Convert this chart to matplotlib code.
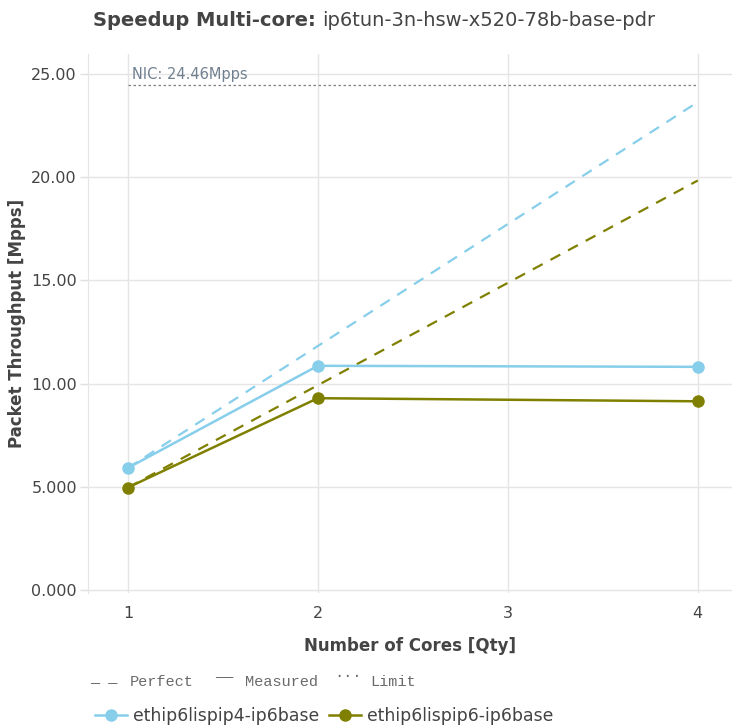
import matplotlib.pyplot as plt
from matplotlib.ticker import FixedLocator

# data
cores = [1, 2, 4]
series_names = ["ethip6lispip4-ip6base", "ethip6lispip6-ip6base"]
measured_ip4 = [5.91, 10.86, 10.81]
measured_ip6 = [4.96, 9.29, 9.14]
perfect_ip4 = [5.91, 11.82, 23.64]
perfect_ip6 = [4.96, 9.92, 19.84]
nic_limit = 24.46
y_ticks = [0, 5, 10, 15, 20, 25]
y_tick_labels = ["0.000", "5.000", "10.00", "15.00", "20.00", "25.00"]
x_ticks = [1, 2, 3, 4]

colors = ["#87ceeb", "#808000"]
text_col = "#444444"

fig = plt.figure(figsize=(7.32, 7.27), dpi=100)
W, H = 732, 727
ax = fig.add_axes([88 / W, 1 - 593 / H, (732 - 88) / W, (593 - 54) / H])

for meas, perf, c, name in zip([measured_ip4, measured_ip6],
                               [perfect_ip4, perfect_ip6], colors, series_names):
    ax.plot(cores, perf, color=c, linestyle=(0, (5, 4)), linewidth=1.6, zorder=2)
    ax.plot(cores, meas, color=c, linewidth=1.8, marker="o", markersize=8,
            label=name, zorder=3)

ax.plot([1, 4], [nic_limit, nic_limit], color="#7f7f7f", linestyle=(0, (2, 2)),
        linewidth=0.9, zorder=2)
ax.text(1.02, nic_limit + 0.15, f"NIC: {nic_limit:.2f}Mpps", color="#708090",
        fontsize=10.5, va="bottom", ha="left")

ax.set_xlim(0.79, 4.18)
ax.set_ylim(-0.15, 25.97)
ax.xaxis.set_major_locator(FixedLocator(x_ticks))
ax.set_yticks(y_ticks)
ax.set_yticklabels(y_tick_labels)
ax.grid(True, color="#e5e5e5", linewidth=1)
ax.set_axisbelow(True)
for s in ax.spines.values():
    s.set_visible(False)
ax.spines["left"].set_visible(True)
ax.spines["left"].set_color("#e5e5e5")
ax.tick_params(axis="both", colors=text_col, labelsize=11.5, length=6, width=1)
ax.tick_params(axis="x", length=0, pad=9)
ax.tick_params(axis="y", color="#e0e0e0", pad=2)

ax.set_xlabel("Number of Cores [Qty]", fontsize=12, fontweight="bold",
              color=text_col, labelpad=12)
ax.set_ylabel("Packet Throughput [Mpps]", fontsize=12, fontweight="bold",
              color=text_col, labelpad=4)

# title: bold prefix + normal suffix, placed side by side
ty = 1 - 20 / H
fig.text(316 / W, ty, "Speedup Multi-core:", fontsize=14, fontweight="bold",
         color=text_col, ha="right", va="center")
fig.text(322 / W, ty, "ip6tun-3n-hsw-x520-78b-base-pdr", fontsize=14,
         color=text_col, ha="left", va="center")

# line-style legend in monospace
mono = ["Liberation Mono", "DejaVu Sans Mono"]
ly = 1 - 682 / H
for x, s, dy in [(90, "_ _", -5), (130, "Perfect", 0), (215, "\u2014\u2014", -5),
                 (245, "Measured", 0), (334, "...", -9), (370, "Limit", 0)]:
    fig.text(x / W, ly - dy / H, s, family=mono, fontsize=11,
             color="#6a6a6a", ha="left", va="center")

handles, labels = ax.get_legend_handles_labels()
fig.legend(handles, labels, loc="center left", bbox_to_anchor=(95 / W, 1 - 716 / H),
           ncol=2, frameon=False, fontsize=12.4, handlelength=1.85,
           handletextpad=0.35, columnspacing=0.6, borderaxespad=0,
           borderpad=0, labelcolor=text_col)

fig.savefig("out.png", dpi=100)
